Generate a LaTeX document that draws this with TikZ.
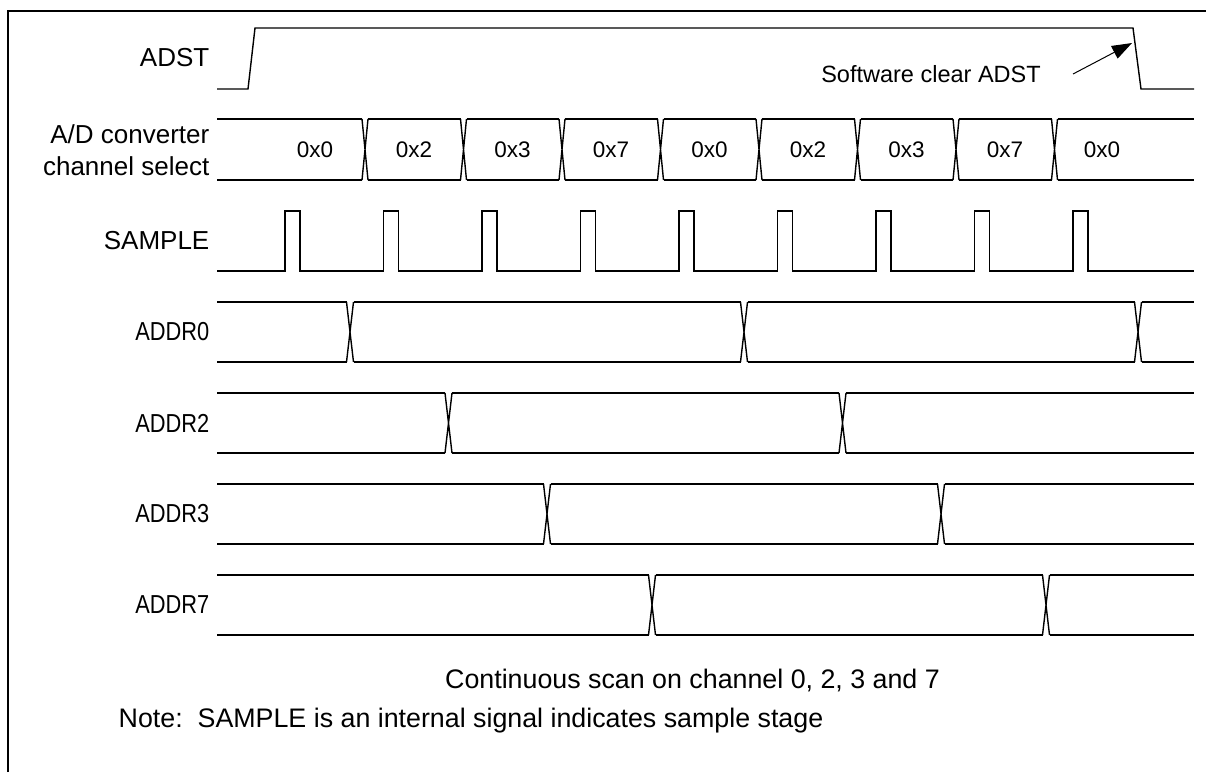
\documentclass[tikz,border=0pt]{standalone}
\usepackage{fontspec}
\setmainfont{Liberation Sans}
\usetikzlibrary{arrows.meta}
\begin{document}
\begin{tikzpicture}[x=1pt,y=-1pt,line width=1.4pt,
  sig/.style={line width=1.4pt,line join=miter},
  lab/.style={anchor=east,inner sep=0pt,font=\fontsize{26}{32}\selectfont},
  val/.style={inner sep=0pt,font=\fontsize{22.5}{26}\selectfont},
  note/.style={inner sep=0pt,font=\fontsize{26.8}{32}\selectfont}]
\useasboundingbox (0,0) rectangle (1206,772);
% frame
\draw[line width=2.6pt] (8,772) -- (8,11) -- (1206,11);

% ADST
\node[lab] (lADST) at (210,58) {ADST};
\draw[sig] (217,89) -- (248,89) -- (255,28) -- (1133,28) -- (1141,89) -- (1194,89);
\node[inner sep=0pt,font=\fontsize{23.5}{28}\selectfont] (sw) at (931,74) {Software clear ADST};
\coordinate (swA) at (1073,74);
\coordinate (swB) at (1132,43);
\draw[line width=1pt,-{Triangle[length=20pt,width=14pt]}] (swA) -- (swB);

% channel select bus
\node[lab,align=right] (lCH) at (210,150) {A/D converter\\channel select};
\foreach \a/\b in {217/362,368/460.5,466.5/559,565/657.5,663.5/756,762/854.5,860.5/953,959/1051.5,1057.5/1194}{
  \draw[sig] (\a,119) -- (\b,119) (\a,180) -- (\b,180);
}
\foreach \k in {0,...,7}{
  \pgfmathsetmacro\t{365+98.5*\k}
  \draw[sig] (\t-3,119) -- (\t+3,180) (\t-3,180) -- (\t+3,119);
}
\foreach \x/\v [count=\i] in {315/0x0,414/0x2,512.5/0x3,611/0x7,709.5/0x0,808/0x2,906.5/0x3,1005/0x7,1102/0x0}{
  \node[val] (v\i) at (\x,149.5) {\v};
}

% SAMPLE
\node[lab] (lSAMPLE) at (210,241) {SAMPLE};
\draw[sig] (217,271)
  \foreach \k in {0,...,8}{ -- ({285+98.5*\k},271) -- ({285+98.5*\k},211) -- ({300+98.5*\k},211) -- ({300+98.5*\k},271) }
  -- (1194,271);

% ADDR0
\node[lab] (lA0) at (210,332) {\scalebox{0.84}[1]{ADDR0}};
\foreach \a/\b in {217/346.5,353.5/740.5,747.5/1134.5,1141.5/1194}{
  \draw[sig] (\a,302) -- (\b,302) (\a,362) -- (\b,362);
}
\foreach \t in {350,744,1138}{
  \draw[sig] (\t-3.5,302) -- (\t+3.5,362) (\t-3.5,362) -- (\t+3.5,302);
}

% ADDR2
\node[lab] (lA2) at (210,423) {\scalebox{0.84}[1]{ADDR2}};
\foreach \a/\b in {217/445,452/839,846/1194}{
  \draw[sig] (\a,393) -- (\b,393) (\a,453) -- (\b,453);
}
\foreach \t in {448.5,842.5}{
  \draw[sig] (\t-3.5,393) -- (\t+3.5,453) (\t-3.5,453) -- (\t+3.5,393);
}

% ADDR3
\node[lab] (lA3) at (210,514) {\scalebox{0.84}[1]{ADDR3}};
\foreach \a/\b in {217/543.5,550.5/937.5,944.5/1194}{
  \draw[sig] (\a,484) -- (\b,484) (\a,544) -- (\b,544);
}
\foreach \t in {547,941}{
  \draw[sig] (\t-3.5,484) -- (\t+3.5,544) (\t-3.5,544) -- (\t+3.5,484);
}

% ADDR7
\node[lab] (lA7) at (210,605) {\scalebox{0.84}[1]{ADDR7}};
\foreach \a/\b in {217/648.5,655.5/1042.5,1049.5/1194}{
  \draw[sig] (\a,575) -- (\b,575) (\a,635) -- (\b,635);
}
\foreach \t in {652,1046}{
  \draw[sig] (\t-3.5,575) -- (\t+3.5,635) (\t-3.5,635) -- (\t+3.5,575);
}

% bottom notes
\node[note] (cap) at (692.5,680) {Continuous scan on channel 0, 2, 3 and 7};
\node[note,anchor=west] (nt) at (118,721) {Note:\ \ SAMPLE is an internal signal indicates sample stage};
\end{tikzpicture}
\end{document}
